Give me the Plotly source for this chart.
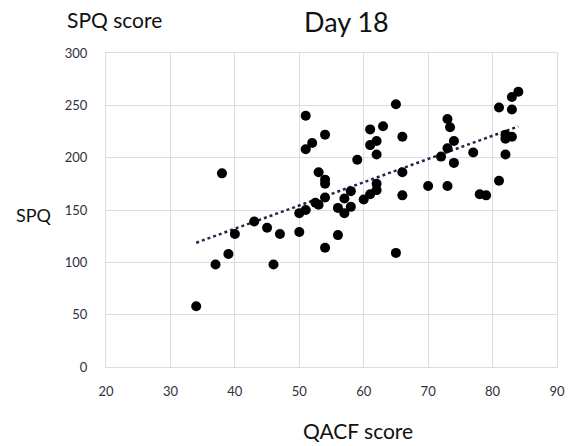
import numpy as np
import plotly.graph_objects as go

qacf = [34, 37, 38, 39, 40, 43, 45, 46, 47, 50, 50, 51, 51, 51, 52, 52.5, 53, 53, 54, 54,
        54, 54, 54, 56, 56, 57, 57, 58, 58, 59, 60, 61, 61, 61, 62, 62, 62, 62, 63, 65,
        65, 66, 66, 66, 70, 73, 73, 73.4, 74, 73, 72, 74, 77, 78, 79, 81, 81, 82, 82, 82,
        83, 83, 83, 84]
spq = [58, 98, 185, 108, 127, 139, 133, 98, 127, 129, 147, 150, 240, 208, 214, 157, 155, 186, 179, 175,
       222, 162, 114, 152, 126, 161, 147, 168, 153, 198, 160, 165, 227, 212, 216, 203, 175, 169, 230, 251,
       109, 220, 186, 164, 173, 173, 237, 229, 216, 209, 201, 195, 205, 165, 164, 248, 178, 203, 218, 222,
       220, 246, 258, 263]

x_ticks = [20, 30, 40, 50, 60, 70, 80, 90]
y_ticks = [0, 50, 100, 150, 200, 250, 300]

xa = np.array(qacf, dtype=float)
ya = np.array(spq, dtype=float)
slope, intercept = np.polyfit(xa, ya, 1)
tx = np.array([xa.min(), xa.max()])
ty = slope * tx + intercept

font_family = "Lato, 'Open Sans', sans-serif"
grid_c = "#dcdbe8"
text_c = "#2e3040"

W, H = 577, 446
L, T = 106, 53
PW, PH = 454, 314
R = W - L - PW
B = H - T - PH

def px(xpix):
    return (xpix - L) / PW

def py(ypix):
    return (T + PH - ypix) / PH

fig = go.Figure()
fig.add_trace(go.Scatter(x=tx, y=ty, mode="lines",
                         line=dict(color="#1f2a4a", width=2.5, dash="dot"),
                         hoverinfo="skip", showlegend=False))
fig.add_trace(go.Scatter(x=qacf, y=spq, mode="markers",
                         marker=dict(color="black", size=10),
                         showlegend=False))

fig.update_layout(
    width=W, height=H,
    margin=dict(l=L, r=R, t=T, b=B),
    paper_bgcolor="white", plot_bgcolor="white",
    font=dict(family=font_family, color=text_c, size=13),
    xaxis=dict(range=[20, 90], tickvals=x_ticks, showgrid=True, gridcolor=grid_c, gridwidth=1,
               showline=True, linecolor=grid_c, mirror=True, zeroline=False,
               ticks="", ticklabelstandoff=12, tickfont=dict(size=13, color=text_c)),
    yaxis=dict(range=[0, 300], tickvals=y_ticks, showgrid=True, gridcolor=grid_c, gridwidth=1,
               showline=True, linecolor=grid_c, mirror=True, zeroline=False,
               ticks="", ticklabelstandoff=15, tickfont=dict(size=13, color=text_c)),
    annotations=[
        dict(text="Day 18", x=px(348), y=py(21), xref="paper", yref="paper",
             xanchor="center", yanchor="middle", showarrow=False,
             font=dict(size=27, color="#111111", family=font_family)),
        dict(text="SPQ score", x=px(65), y=py(19), xref="paper", yref="paper",
             xanchor="left", yanchor="middle", showarrow=False,
             font=dict(size=21, color="#111111", family=font_family)),
        dict(text="SPQ", x=px(13), y=py(215), xref="paper", yref="paper",
             xanchor="left", yanchor="middle", showarrow=False,
             font=dict(size=18, color="#111111", family=font_family)),
        dict(text="QACF score", x=px(360), y=py(430), xref="paper", yref="paper",
             xanchor="center", yanchor="middle", showarrow=False,
             font=dict(size=21, color="#111111", family=font_family)),
    ],
)

fig.write_html("out.html",
               config={"displayModeBar": False},
               post_script="document.body.style.margin='0';document.body.style.padding='0';")
